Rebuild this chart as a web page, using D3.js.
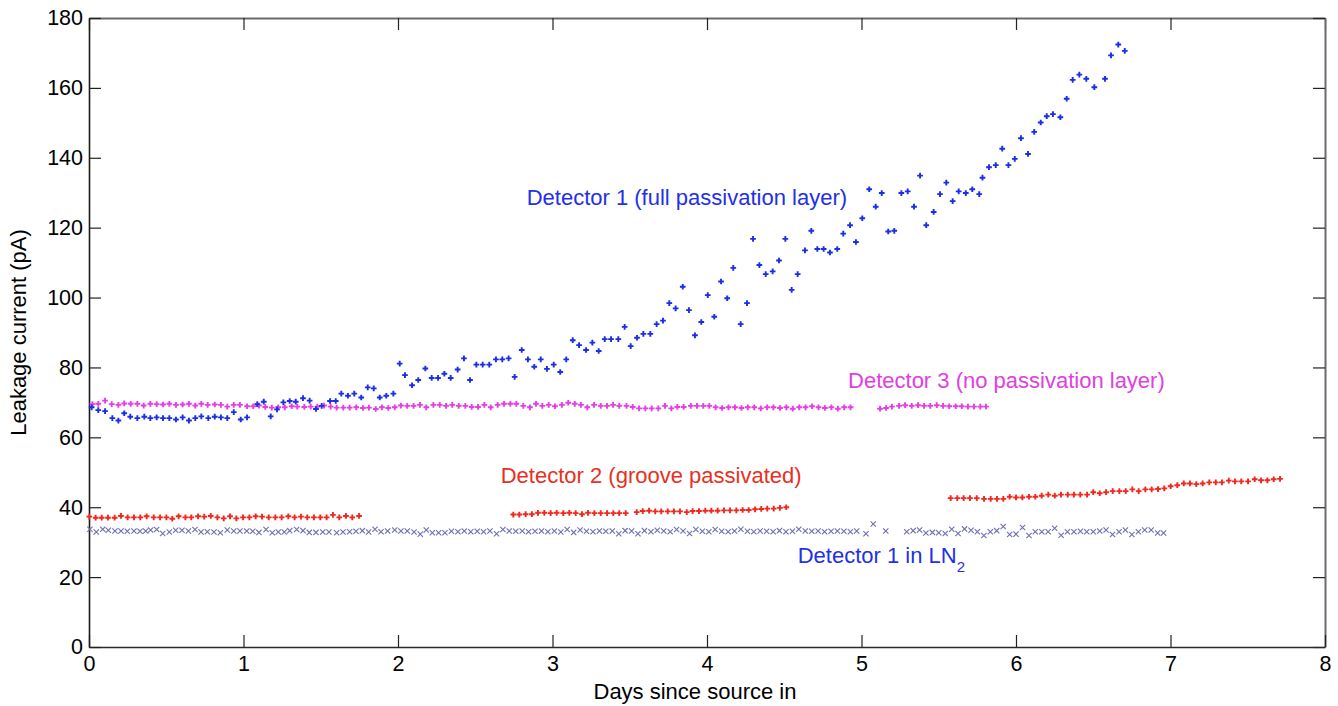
<!DOCTYPE html>
<html>
<head>
<meta charset="utf-8">
<script src="https://cdn.jsdelivr.net/npm/d3@7"></script>
<style>
  body { margin: 0; background: #fff; }
  svg { display: block; }
  text { font-family: "Liberation Sans", Arial, sans-serif; }
</style>
</head>
<body>
<div id="chart"></div>
<script>
// [day, leakage current pA]
var det1Full = [
  [0.017,68.6],[0.060,67.8],[0.104,67.5],[0.151,65.5],[0.190,64.8],[0.228,66.9],[0.267,65.9],[0.313,65.5],[0.358,65.9],[0.397,65.5],
  [0.438,65.7],[0.479,65.5],[0.520,65.5],[0.563,65.1],[0.606,65.7],[0.647,64.8],[0.688,65.5],[0.727,66.0],[0.772,65.5],[0.814,65.9],
  [0.854,65.7],[0.895,65.5],[0.937,67.2],[0.982,65.1],[1.023,65.7],[1.089,69.5],[1.131,70.2],[1.176,66.0],[1.217,68.0],[1.258,70.0],
  [1.299,70.4],[1.338,70.2],[1.385,71.2],[1.428,70.5],[1.469,68.1],[1.506,69.0],[1.560,70.4],[1.597,70.4],[1.633,72.5],[1.676,71.9],
  [1.717,72.5],[1.762,71.4],[1.804,74.3],[1.843,74.0],[1.882,71.4],[1.924,71.9],[1.970,72.5],[2.011,81.1],[2.045,77.8],
  [2.091,74.9],[2.131,76.4],[2.177,79.7],[2.218,77.0],[2.259,77.0],[2.300,78.2],[2.341,77.0],[2.386,79.4],[2.427,82.6],[2.466,76.4],
  [2.507,80.8],[2.548,80.8],[2.591,80.8],[2.634,82.3],[2.675,82.3],[2.716,82.6],[2.755,77.3],[2.801,85.0],[2.841,82.3],[2.882,80.2],
  [2.924,82.3],[2.964,79.6],[3.008,80.8],[3.050,78.7],[3.089,82.3],[3.131,87.8],[3.172,86.4],[3.217,85.0],[3.258,87.1],[3.299,84.7],
  [3.338,88.1],[3.379,88.1],[3.426,88.1],[3.467,91.6],[3.506,86.1],[3.547,88.5],[3.588,89.6],[3.633,89.6],[3.674,92.4],[3.715,93.4],
  [3.756,98.4],[3.797,96.9],[3.843,103.1],[3.883,96.4],[3.922,89.2],[3.963,93.0],[4.005,100.7],[4.047,94.5],[4.091,104.6],[4.131,99.8],
  [4.170,108.5],[4.218,92.4],[4.259,98.4],[4.298,116.8],[4.339,109.3],[4.380,106.7],[4.425,107.5],[4.466,110.6],[4.507,116.8],[4.548,102.2],
  [4.587,106.7],[4.634,113.5],[4.675,119.1],[4.714,113.9],[4.755,113.9],[4.796,112.9],[4.843,113.9],[4.882,118.3],[4.926,120.7],[4.964,115.9],
  [5.005,122.7],[5.050,131.0],[5.092,126.0],[5.131,129.9],[5.173,118.9],[5.212,119.1],[5.258,129.9],[5.299,130.4],[5.340,126.0],[5.379,134.9],
  [5.419,120.7],[5.467,124.5],[5.508,129.6],[5.549,132.9],[5.590,127.6],[5.629,130.4],[5.675,129.9],[5.717,131.0],[5.762,129.6],[5.783,134.3],
  [5.825,137.3],[5.869,137.9],[5.911,142.6],[5.951,137.9],[5.992,139.7],[6.032,145.6],[6.078,141.1],[6.118,147.4],[6.160,150.1],[6.199,151.9],
  [6.239,152.5],[6.287,151.6],[6.328,156.9],[6.367,162.3],[6.410,163.8],[6.455,162.6],[6.507,160.2],[6.576,162.6],[6.615,169.3],[6.662,172.4],
  [6.704,170.6]
];

var det3None = [
  [0.022,69.5],[0.060,69.6],[0.104,70.5],[0.147,69.5],[0.190,69.3],[0.228,69.7],[0.270,69.6],[0.313,69.6],[0.354,69.1],[0.397,69.6],
  [0.438,69.5],[0.479,69.4],[0.520,69.6],[0.563,69.3],[0.606,69.4],[0.647,69.6],[0.688,69.1],[0.727,69.6],[0.768,69.3],[0.814,69.4],
  [0.854,69.3],[0.895,68.8],[0.937,69.3],[0.977,69.3],[1.023,68.9],[1.063,68.9],[1.100,69.1],[1.141,68.7],[1.183,68.5],[1.225,68.6],
  [1.267,68.6],[1.312,68.9],[1.348,68.8],[1.394,68.7],[1.435,68.8],[1.478,68.8],[1.521,69.1],[1.564,68.8],[1.603,68.5],[1.646,68.5],
  [1.687,68.5],[1.730,68.6],[1.773,68.4],[1.812,68.5],[1.856,68.1],[1.896,68.6],[1.937,68.4],[1.979,68.6],[2.019,69.1],
  [2.060,69.0],[2.101,69.0],[2.142,69.3],[2.183,68.6],[2.229,69.3],[2.270,69.3],[2.311,69.0],[2.351,69.3],[2.393,69.0],[2.436,69.0],
  [2.477,68.7],[2.518,68.7],[2.559,69.3],[2.600,68.6],[2.645,69.3],[2.686,69.6],[2.727,69.6],[2.766,69.6],[2.811,69.0],[2.854,68.6],
  [2.893,69.6],[2.934,69.0],[2.975,69.3],[3.016,68.9],[3.061,69.3],[3.102,69.9],[3.144,69.6],[3.184,69.3],[3.225,68.6],[3.269,69.3],
  [3.312,69.0],[3.353,69.0],[3.392,69.3],[3.432,69.0],[3.479,69.0],[3.519,68.7],[3.560,68.3],[3.601,68.3],[3.642,68.3],[3.685,68.3],
  [3.728,69.0],[3.769,68.3],[3.808,68.7],[3.849,68.7],[3.895,69.0],[3.935,69.0],[3.976,69.0],[4.015,69.0],
  [4.056,68.6],[4.098,68.4],[4.139,68.6],[4.181,68.6],[4.223,68.4],[4.264,68.6],[4.306,68.6],[4.348,68.3],[4.389,68.6],[4.430,68.6],
  [4.472,68.4],[4.514,68.6],[4.555,68.2],[4.597,68.6],[4.638,68.6],[4.680,68.9],[4.722,68.6],[4.763,68.4],[4.805,68.6],[4.847,68.2],
  [4.888,68.6],[4.929,68.6],
  [5.120,68.2],[5.159,68.4],[5.197,68.8],[5.243,69.0],[5.282,69.2],[5.325,69.0],[5.366,69.2],[5.405,69.0],[5.445,69.0],[5.487,69.2],
  [5.528,69.0],[5.568,68.9],[5.610,68.9],[5.649,68.9],[5.689,68.8],[5.728,68.8],[5.769,68.8],[5.806,68.8]
];

var det2Groove = [
  [0.002,37.3],[0.043,37.0],[0.082,37.0],[0.123,37.0],[0.166,37.0],[0.207,37.5],[0.250,37.1],[0.291,37.1],[0.332,37.1],[0.373,37.4],
  [0.419,37.1],[0.460,37.1],[0.501,37.1],[0.539,36.7],[0.580,37.4],[0.624,37.1],[0.662,37.1],[0.706,37.4],[0.746,37.3],[0.788,37.5],
  [0.831,37.1],[0.872,36.8],[0.913,37.4],[0.954,36.8],[0.997,37.1],[1.038,37.1],[1.079,37.4],[1.120,37.3],[1.163,37.1],[1.206,37.1],
  [1.247,37.1],[1.290,37.4],[1.331,37.1],[1.372,37.3],[1.413,37.1],[1.456,37.1],[1.497,37.1],[1.538,37.1],[1.579,37.8],[1.620,37.1],
  [1.663,37.5],[1.704,37.1],[1.748,37.5],
  [2.746,37.9],[2.785,37.9],[2.826,38.0],[2.867,38.0],[2.906,38.4],[2.947,38.4],[2.988,38.3],[3.027,38.4],[3.070,38.3],[3.109,38.4],
  [3.150,38.3],[3.191,38.0],[3.230,38.4],[3.271,38.3],[3.312,38.3],[3.353,38.3],[3.394,38.3],[3.432,38.3],[3.474,38.3],
  [3.545,38.6],[3.584,38.9],[3.625,39.0],[3.665,38.8],[3.704,38.8],[3.746,38.8],[3.786,38.8],[3.825,38.8],[3.869,38.6],[3.907,38.9],
  [3.948,38.9],[3.989,39.0],[4.028,39.0],[4.069,39.0],[4.110,39.1],[4.149,39.1],[4.190,39.1],[4.231,39.2],[4.270,39.2],[4.311,39.4],
  [4.351,39.5],[4.390,39.6],[4.432,39.6],[4.472,39.8],[4.513,40.0],
  [5.577,42.6],[5.620,42.6],[5.661,42.6],[5.702,42.6],[5.746,42.6],[5.793,42.4],[5.836,42.4],[5.877,42.4],[5.918,42.4],[5.959,43.0],
  [6.000,42.8],[6.041,42.8],[6.084,43.0],[6.125,43.0],[6.166,43.3],[6.209,43.6],[6.251,43.3],[6.291,43.6],[6.335,43.6],[6.375,43.6],
  [6.416,43.6],[6.460,43.6],[6.500,44.3],[6.542,44.0],[6.583,44.3],[6.626,44.6],[6.669,44.6],[6.710,44.6],[6.753,45.1],[6.794,44.6],
  [6.837,45.1],[6.878,45.1],[6.919,45.2],[6.960,45.4],[7.001,46.0],[7.044,46.3],[7.086,46.8],[7.126,46.8],[7.167,46.6],[7.208,46.8],
  [7.251,47.1],[7.293,47.1],[7.333,47.1],[7.377,47.6],[7.417,47.4],[7.458,47.4],[7.502,47.4],[7.545,48.0],[7.586,47.7],[7.627,47.7],
  [7.668,48.0],[7.709,48.1]
];

var det1LN2 = [
  [0.006,33.7],[0.047,32.9],[0.089,33.7],[0.125,33.4],[0.168,33.2],[0.207,33.2],[0.248,33.1],[0.291,33.2],[0.330,33.1],[0.367,33.2],
  [0.399,33.5],[0.438,33.6],[0.477,32.5],[0.520,32.9],[0.561,33.4],[0.602,33.4],[0.643,33.2],[0.686,33.6],[0.725,32.9],[0.766,33.0],
  [0.809,32.9],[0.850,32.7],[0.895,33.5],[0.937,33.2],[0.977,33.2],[1.021,33.2],[1.060,33.1],[1.100,32.8],[1.146,33.6],[1.186,32.7],
  [1.225,32.9],[1.264,32.9],[1.299,33.3],[1.344,33.6],[1.385,33.3],[1.426,32.8],[1.469,32.8],[1.513,32.9],[1.553,32.9],[1.603,32.7],
  [1.644,32.9],[1.687,33.0],[1.728,33.1],[1.769,33.3],[1.810,32.9],[1.851,33.7],[1.890,33.0],[1.933,33.2],[1.979,33.5],[2.019,33.2],
  [2.060,33.2],[2.104,32.9],[2.144,32.3],[2.183,33.5],[2.222,32.7],[2.263,32.7],[2.304,32.7],
  [2.346,33.1],[2.388,33.0],[2.429,33.2],[2.471,33.0],[2.513,33.1],[2.554,33.0],[2.595,33.2],[2.638,32.4],[2.679,33.6],[2.720,33.2],
  [2.762,33.1],[2.804,33.2],[2.845,33.0],[2.887,33.1],[2.929,33.2],[2.970,33.0],[3.012,33.2],[3.054,32.9],[3.095,33.6],[3.137,32.8],
  [3.179,33.5],[3.220,33.1],[3.262,33.0],[3.304,33.2],[3.345,33.1],[3.387,33.2],[3.429,32.4],[3.470,33.3],[3.512,33.2],[3.553,32.4],
  [3.595,33.3],[3.637,33.0],[3.678,33.4],[3.720,33.2],[3.762,33.0],[3.803,33.6],[3.845,33.2],[3.887,32.5],[3.928,33.6],[3.970,33.1],
  [4.012,33.0],[4.053,33.6],[4.095,33.1],[4.137,33.0],[4.178,33.2],[4.219,33.7],[4.262,33.1],[4.303,33.0],[4.344,33.2],[4.386,33.1],
  [4.428,33.0],[4.469,33.3],[4.511,33.0],[4.553,33.1],[4.594,33.7],[4.636,33.2],[4.678,33.1],[4.719,33.2],[4.761,33.0],[4.803,33.1],
  [4.844,33.2],[4.886,33.1],[4.928,33.0],[4.969,33.2],[5.029,32.4],[5.076,35.2],[5.157,33.2],
  [5.293,33.0],[5.334,33.3],[5.376,33.5],[5.417,32.6],[5.459,32.8],[5.500,32.7],[5.542,32.5],[5.584,33.7],[5.625,32.5],[5.667,33.8],
  [5.709,33.4],[5.750,33.0],[5.792,31.9],[5.834,33.0],[5.875,33.3],[5.917,34.5],[5.959,32.2],[6.000,32.3],[6.042,34.2],[6.084,31.9],
  [6.125,33.0],[6.167,33.0],[6.208,33.0],[6.250,34.0],[6.292,32.0],[6.333,33.0],[6.375,33.0],[6.417,33.1],[6.458,33.0],[6.500,33.0],
  [6.542,33.2],[6.583,33.5],[6.625,32.2],[6.667,33.0],[6.708,33.5],[6.750,32.2],[6.792,33.0],[6.833,33.5],[6.875,33.5],[6.917,32.6],
  [6.955,32.6]
];

var xTicks = [0, 1, 2, 3, 4, 5, 6, 7, 8];
var yTicks = [0, 20, 40, 60, 80, 100, 120, 140, 160, 180];

var svgWidth = 1338;
var svgHeight = 706;
var margin = { top: 18, right: 13, bottom: 59, left: 89 };
var width = svgWidth - margin.left - margin.right;
var height = svgHeight - margin.top - margin.bottom;

var svg = d3.select("#chart")
  .append("svg")
  .attr("width", svgWidth)
  .attr("height", svgHeight);

var chartGroup = svg.append("g")
  .attr("transform", `translate(${margin.left}, ${margin.top})`);

var xScale = d3.scaleLinear().domain([0, 8]).range([0, width]);
var yScale = d3.scaleLinear().domain([0, 180]).range([height, 0]);

// axes: ticks point inward on all four sides
var bottomAxis = d3.axisBottom(xScale).tickValues(xTicks).tickSizeInner(-12).tickSizeOuter(0).tickPadding(9);
var leftAxis = d3.axisLeft(yScale).tickValues(yTicks).tickSizeInner(-12).tickSizeOuter(0).tickPadding(6);
var topAxis = d3.axisTop(xScale).tickValues(xTicks).tickSizeInner(-12).tickSizeOuter(0).tickFormat("");
var rightAxis = d3.axisRight(yScale).tickValues(yTicks).tickSizeInner(-12).tickSizeOuter(0).tickFormat("");

function styleAxis(g, lineColor, lineWidth) {
  g.select(".domain").attr("stroke", lineColor).attr("stroke-width", lineWidth);
  g.selectAll(".tick line").attr("stroke", "#222").attr("stroke-width", 1.2);
  g.selectAll(".tick text").attr("fill", "#000").style("font-size", "21.5px")
    .style("font-family", '"Liberation Sans", Arial, sans-serif');
}

chartGroup.append("g").call(topAxis).call(styleAxis, "#6b6b6b", 2);
chartGroup.append("g").attr("transform", `translate(${width}, 0)`).call(rightAxis).call(styleAxis, "#6b6b6b", 2);
chartGroup.append("g").attr("transform", `translate(0, ${height})`).call(bottomAxis).call(styleAxis, "#2a2a2a", 1.6);
chartGroup.append("g").call(leftAxis).call(styleAxis, "#1a1a1a", 1.6);

// custom "x" marker
var timesMark = {
  draw: function(context, size) {
    var r = Math.sqrt(size) / 2;
    context.moveTo(-r, -r);
    context.lineTo(r, r);
    context.moveTo(-r, r);
    context.lineTo(r, -r);
  }
};

var dotSymbol = d3.symbol().type(d3.symbolCross).size(18);
var xSymbol = d3.symbol().type(timesMark).size(28);

chartGroup.append("g").selectAll("path")
  .data(det1LN2)
  .join("path")
  .attr("transform", d => `translate(${xScale(d[0])}, ${yScale(d[1])})`)
  .attr("d", xSymbol)
  .attr("fill", "none")
  .attr("stroke", "#6f6fb2")
  .attr("stroke-width", 1.1);

function drawDots(data, color) {
  chartGroup.append("g").selectAll("path")
    .data(data)
    .join("path")
    .attr("transform", d => `translate(${xScale(d[0])}, ${yScale(d[1])})`)
    .attr("d", dotSymbol)
    .attr("fill", color);
}

drawDots(det2Groove, "#f0281e");
drawDots(det3None, "#e63ee6");
drawDots(det1Full, "#1a2ee8");

// series annotations
var labels = chartGroup.append("g").style("font-size", "22px");

labels.append("text")
  .attr("x", xScale(2.833)).attr("y", yScale(126.5))
  .attr("fill", "#1f30e6")
  .text("Detector 1 (full passivation layer)");

labels.append("text")
  .attr("x", xScale(4.913)).attr("y", yScale(74.0))
  .attr("fill", "#e040e0")
  .text("Detector 3 (no passivation layer)");

labels.append("text")
  .attr("x", xScale(2.665)).attr("y", yScale(47.0))
  .attr("fill", "#e8301e")
  .text("Detector 2 (groove passivated)");

var ln2 = labels.append("text")
  .attr("x", xScale(4.587)).attr("y", yScale(24.0))
  .attr("fill", "#1f30e6");
ln2.append("tspan").text("Detector 1 in LN");
ln2.append("tspan").attr("dy", 9).style("font-size", "15px").text("2");

// axis titles
svg.append("text")
  .attr("x", margin.left + width / 2 - 12)
  .attr("y", 699)
  .attr("text-anchor", "middle")
  .style("font-size", "22px")
  .text("Days since source in");

svg.append("text")
  .attr("transform", `translate(26, ${margin.top + height / 2}) rotate(-90)`)
  .attr("text-anchor", "middle")
  .style("font-size", "22px")
  .text("Leakage current (pA)");
</script>
</body>
</html>
